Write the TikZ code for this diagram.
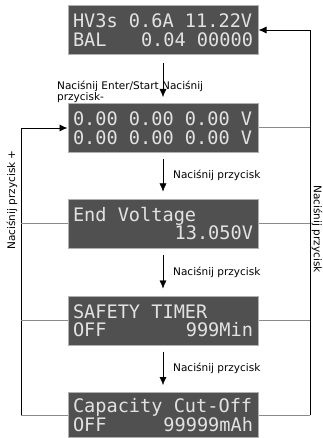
\documentclass[tikz,border=0pt]{standalone}
\usepackage{fontspec}
\setmainfont{DejaVu Sans}
\setmonofont{DejaVu Sans Mono}
\usepackage{xcolor}
\usepackage{tikz}
\usetikzlibrary{arrows.meta,positioning,calc}
\definecolor{lcdbg}{HTML}{505050}
\definecolor{lcdfg}{HTML}{E2E2E2}
\definecolor{lcdrim}{HTML}{B0B0B0}
\definecolor{spurgray}{HTML}{8A8A8A}
% one character cell of the display
\newcommand\lcdgap{\hbox to \fontcharwd\font`0{}}

\begin{document}
\begin{tikzpicture}[x=1pt, y=-1pt, >={Latex[length=8pt,width=7pt]},
    lcd/.style={draw=lcdrim, line width=1pt, fill=lcdbg, text=lcdfg,
        minimum width=190pt, minimum height=49pt, text width=180pt,
        align=left, inner sep=0pt, font=\fontsize{18.6}{18.5}\ttfamily},
    note/.style={font=\fontsize{10.5}{10}\selectfont, inner sep=1pt},
    wire/.style={line width=0.8pt},
    spur/.style={draw=spurgray, line width=1pt}]
    \useasboundingbox (0,0) rectangle (322,438);

    % displays
    \node [lcd] (b1) at (163,30) {HV3s\lcdgap 0.6A\lcdgap 11.22V\\BAL\hfill0.04\lcdgap 00000};
    \node [lcd] (b2) at (163,128) {0.00\lcdgap 0.00\lcdgap 0.00\lcdgap V\\0.00\lcdgap 0.00\lcdgap 0.00\lcdgap V};
    \node [lcd] (b3) at (163,223.5) {End\lcdgap Voltage\\\mbox{}\hfill13.050V};
    \node [lcd] (b4) at (163,320.5) {SAFETY\lcdgap TIMER\\OFF\hfill999Min};
    \node [lcd, minimum height=45pt] (b5) at (163,415) {Capacity\lcdgap Cut-Off\\OFF\hfill99999mAh};

    % forward steps
    \draw [->, shorten <=8pt, shorten >=6pt] (b1.south) -- (b2.north);
    \node [note, anchor=north west, align=left] (cue) at (56,80) {Naciśnij Enter/Start Naciśnij\\przycisk-};
    \foreach \a/\b in {b2/b3, b3/b4, b4/b5}
        \draw [->, shorten <=6pt, shorten >=7pt] (\a.south) -- node [note, right=9pt] (p\a) {Naciśnij przycisk} (\b.north);

    % return loops
    \coordinate (rt) at (310,30);
    \coordinate (rb) at (310,415);
    \coordinate (lt) at (21,128);
    \coordinate (lb) at (21,415);
    \draw [wire, ->] (rb) -- (rt) -- (b1.east);
    \draw [wire, ->] (lb) -- (lt) -- (b2.west);
    \foreach \n in {b2,b3,b4,b5}
        \draw [spur] (\n.east) -- (\n.east -| rt);
    \foreach \n in {b3,b4,b5}
        \draw [spur] (\n.west) -- (\n.west -| lt);

    \node [note, rotate=90] (lnote) at (12,200) {Naciśnij przycisk +};
    \node [note, rotate=-90] (rnote) at (317,229) {Naciśnij przycisk};
\end{tikzpicture}
\end{document}
